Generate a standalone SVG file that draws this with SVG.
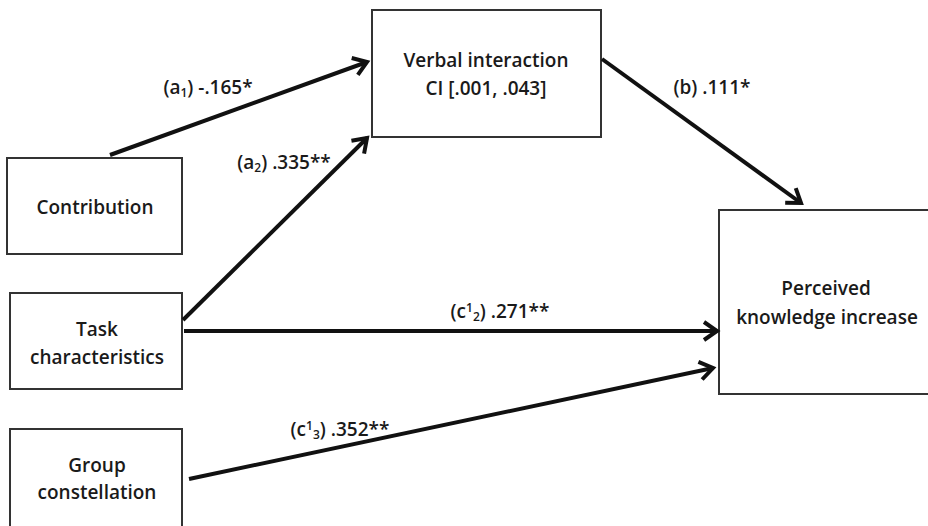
<svg xmlns="http://www.w3.org/2000/svg" width="928" height="526" viewBox="0 0 928 526">
<style>
.box{fill:#fff;stroke:#333;stroke-width:2}
.t{font-family:"Open Sans","Liberation Sans",sans-serif;font-size:19px;font-weight:600;fill:#1a1a1a;text-anchor:middle}
.l{font-family:"Open Sans","Liberation Sans",sans-serif;font-size:19px;font-weight:600;fill:#1a1a1a;text-anchor:middle}
.s{font-size:12px}
.e{fill:none;stroke:#111;stroke-width:4;marker-end:url(#arr)}
</style>
<defs>
<marker id="arr" markerUnits="userSpaceOnUse" viewBox="-18 -12 22 24" markerWidth="22" markerHeight="24" refX="0" refY="0" orient="auto" overflow="visible">
<path d="M-13,-9 L0,0 L-13,9" fill="none" stroke="#111" stroke-width="4" stroke-linejoin="miter"/>
</marker>
</defs>
<rect width="928" height="526" fill="#fff"/>
<g id="contribution"><rect class="box" x="7" y="158" width="175" height="96"/><text class="t" x="95" y="214">Contribution</text></g>
<g id="task"><rect class="box" x="10" y="293" width="172" height="96"/><text class="t" x="97" y="336">Task</text><text class="t" x="97" y="364">characteristics</text></g>
<g id="group"><rect class="box" x="10" y="429" width="172" height="100"/><text class="t" x="97" y="472">Group</text><text class="t" x="97" y="499">constellation</text></g>
<g id="verbal"><rect class="box" x="372" y="10" width="229" height="127"/><text class="t" x="486" y="67">Verbal interaction</text><text class="t" x="486" y="95">CI [.001, .043]</text></g>
<g id="perceived"><rect class="box" x="719" y="210" width="216" height="184"/><text class="t" x="826" y="295">Perceived</text><text class="t" x="827" y="324">knowledge increase</text></g>
<g id="connectors">
<line class="e" x1="110" y1="155" x2="367" y2="62"/>
<line class="e" x1="183" y1="320" x2="367" y2="138"/>
<line class="e" x1="602" y1="59" x2="801" y2="203"/>
<line class="e" x1="184" y1="331" x2="717" y2="331"/>
<line class="e" x1="189" y1="479" x2="713" y2="368"/>
</g>
<g id="labels">
<text class="l" x="208" y="94">(a<tspan class="s" dy="3">1</tspan><tspan dy="-3">) -.165*</tspan></text>
<text class="l" x="284" y="169">(a<tspan class="s" dy="3">2</tspan><tspan dy="-3">) .335**</tspan></text>
<text class="l" x="712" y="94">(b) .111*</text>
<text class="l" x="500" y="318">(c<tspan class="s" dy="-6">1</tspan><tspan class="s" dy="9">2</tspan><tspan dy="-3">) .271**</tspan></text>
<text class="l" x="340" y="436">(c<tspan class="s" dy="-6">1</tspan><tspan class="s" dy="9">3</tspan><tspan dy="-3">) .352**</tspan></text>
</g>
</svg>
